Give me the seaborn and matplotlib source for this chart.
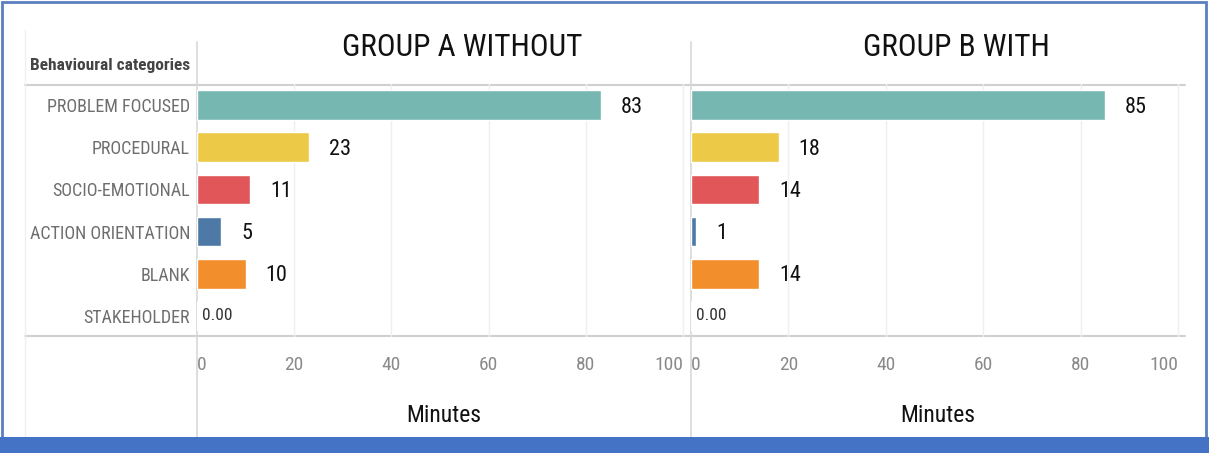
import matplotlib
matplotlib.use("Agg")
import matplotlib.pyplot as plt
from matplotlib import font_manager
from matplotlib.lines import Line2D
from matplotlib.patches import Rectangle
import seaborn as sns
import pandas as pd

# Behaviour categories and minutes spent per group
categories = ["PROBLEM FOCUSED", "PROCEDURAL", "SOCIO-EMOTIONAL",
              "ACTION ORIENTATION", "BLANK", "STAKEHOLDER"]
group_a_minutes = [83, 23, 11, 5, 10, 0]
group_b_minutes = [85, 18, 14, 1, 14, 0]
panel_titles = ["GROUP A WITHOUT", "GROUP B WITH"]
x_ticks = [0, 20, 40, 60, 80, 100]
bar_colors = ["#76B7B2", "#EDC948", "#E15759", "#4E79A7", "#F28E2B", "#BAB0AC"]

sns.set_theme(style="white")

# pick a condensed sans face if one is installed
installed = {f.name for f in font_manager.fontManager.ttflist}
narrow = [n for n in ("Roboto Condensed", "Archivo Narrow", "PT Sans Narrow",
                      "Liberation Sans Narrow", "Asap Condensed",
                      "Sofia Sans Condensed") if n in installed][:1]
plt.rcParams["font.family"] = narrow + ["DejaVu Sans"]

W, H = 1209, 453
fig = plt.figure(figsize=(W / 100, H / 100), dpi=100)
fig.patch.set_facecolor("white")


def fx(x):
    return x / W


def fy(y):
    return 1 - y / H


def hline(x0, x1, y, color, lw=1.0):
    fig.add_artist(Line2D([fx(x0), fx(x1)], [fy(y), fy(y)], color=color, lw=lw,
                          transform=fig.transFigure, zorder=0))


def vline(x, y0, y1, color, lw=1.0):
    fig.add_artist(Line2D([fx(x), fx(x)], [fy(y0), fy(y1)], color=color, lw=lw,
                          transform=fig.transFigure, zorder=0))


top_px, bottom_px = 84, 337
panels = [
    (197, 691, 101.6, group_a_minutes, 0),
    (691, 1185, 101.4, group_b_minutes, 1),
]

for left_px, right_px, xmax, values, idx in panels:
    ax = fig.add_axes([fx(left_px), fy(bottom_px), fx(right_px - left_px),
                       (bottom_px - top_px) / H])
    df = pd.DataFrame({"category": categories, "minutes": values})
    sns.barplot(data=df, x="minutes", y="category", hue="category",
                palette=bar_colors, legend=False, orient="h", width=0.7,
                ax=ax, saturation=1)
    ax.set_xlim(0, xmax)
    ax.set_ylim(len(categories) - 0.5, -0.5)
    ax.set_facecolor("none")
    for s in ax.spines.values():
        s.set_visible(False)
    ax.set_xticks(x_ticks)
    ax.set_xticklabels([str(t) for t in x_ticks])
    ax.tick_params(axis="x", length=0, pad=14, labelsize=14, labelcolor="#8a8a8a")
    tl = ax.get_xticklabels()
    tl[0].set_horizontalalignment("left")
    tl[-1].set_horizontalalignment("right")
    for t in x_ticks[1:]:
        ax.axvline(t, color="#efefef", lw=1, zorder=0)
    ax.set_xlabel("")
    ax.set_ylabel("")
    if idx == 0:
        ax.tick_params(axis="y", length=0, pad=5, labelsize=13, labelcolor="#6e6e6e")
    else:
        ax.set_yticks(range(len(categories)))
        ax.set_yticklabels([])
        ax.tick_params(axis="y", length=0)

    # value labels next to each bar
    for i, v in enumerate(values):
        if v == 0:
            ax.annotate("0.00", (v, i), xytext=(5, 0), textcoords="offset pixels",
                        ha="left", va="center", fontsize=12.5, color="#333333")
        else:
            ax.annotate(f"{v}", (v, i), xytext=(20, -2), textcoords="offset pixels",
                        ha="left", va="center", fontsize=16, color="#111111")

    centre = (left_px + right_px) / 2
    fig.text(fx(centre + 18), fy(48), panel_titles[idx], ha="center", va="center",
             fontsize=22.5, color="#111111")
    fig.text(fx(centre), fy(415), "Minutes", ha="center", va="center",
             fontsize=17, color="#111111")

# header and table rules
fig.text(fx(190), fy(65), "Behavioural categories", ha="right", va="center",
         fontsize=12.5, fontweight="bold", color="#444444")
hline(25, 1185, 85, "#d0d0d0", 1.5)
hline(25, 1185, 336, "#d0d0d0", 1.5)
vline(197, 42, 437, "#d8d8d8", 1.2)
vline(691, 42, 437, "#d8d8d8", 1.2)
vline(25, 30, 437, "#f0f0f0", 1.0)

# outer frame
fig.add_artist(Rectangle((fx(2), fy(451)), fx(1204), 449 / H, fill=False,
                         edgecolor="#5b7fc0", lw=2, transform=fig.transFigure))
fig.add_artist(Rectangle((0, 0), 1, 16 / H, facecolor="#4472C4", edgecolor="none",
                         transform=fig.transFigure))

fig.savefig("out.png", dpi=100, facecolor="white")
